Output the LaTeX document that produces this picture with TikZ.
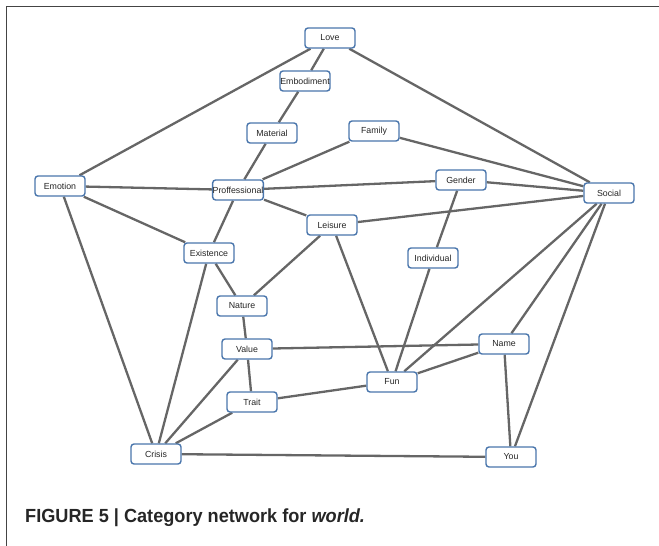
\documentclass[tikz,border=0pt]{standalone}
\usepackage{fontspec}
\setmainfont{Liberation Sans}
\usetikzlibrary{backgrounds}
\definecolor{edgec}{HTML}{666666}
\definecolor{boxc}{HTML}{4A76AC}
\definecolor{framec}{HTML}{444444}
\begin{document}
\begin{tikzpicture}[x=1pt,y=-1pt,
  cat/.style={draw=boxc, line width=1.4pt, rounded corners=3pt, fill=white,
    minimum width=50pt, minimum height=20pt, inner sep=0pt, text=black!85,
    font=\fontsize{8.8}{10}\selectfont},
  link/.style={draw=edgec, line width=2.3pt},
  framel/.style={draw=framec, line width=1.5pt}]
\useasboundingbox (0,0) rectangle (659,546);
\coordinate (fa) at (659,6.5);
\coordinate (fb) at (6.5,6.5);
\coordinate (fc) at (6.5,546);
\draw[framel] (fa) -- (fb) -- (fc);

\node[cat] (love) at (330,38) {Love};
\node[cat] (emb) at (305,81) {Embodiment};
\node[cat] (mat) at (272,133) {Material};
\node[cat] (fam) at (374,131) {Family};
\node[cat] (emo) at (60,186) {Emotion};
\node[cat] (prof) at (238,190) {Proffessional};
\node[cat] (gen) at (461,180) {Gender};
\node[cat] (soc) at (609,193) {Social};
\node[cat] (lei) at (332,225) {Leisure};
\node[cat] (exi) at (209,253) {Existence};
\node[cat] (ind) at (433,258) {Individual};
\node[cat] (nat) at (242,306) {Nature};
\node[cat] (val) at (247,349) {Value};
\node[cat] (nam) at (504,344) {Name};
\node[cat] (fun) at (392,382) {Fun};
\node[cat] (tra) at (252,402) {Trait};
\node[cat] (cri) at (156,454) {Crisis};
\node[cat] (you) at (511,457) {You};

\begin{scope}[on background layer]
\draw[link] (love) -- (emo);
\draw[link] (love) -- (emb);
\draw[link] (love) -- (soc);
\draw[link] (emb) -- (mat);
\draw[link] (mat) -- (prof);
\draw[link] (fam) -- (prof);
\draw[link] (fam) -- (soc);
\draw[link] (emo) -- (prof);
\draw[link] (emo) -- (exi);
\draw[link] (emo) -- (cri);
\draw[link] (prof) -- (gen);
\draw[link] (prof) -- (lei);
\draw[link] (prof) -- (exi);
\draw[link] (gen) -- (soc);
\draw[link] (gen) -- (ind);
\draw[link] (lei) -- (soc);
\draw[link] (lei) -- (nat);
\draw[link] (lei) -- (fun);
\draw[link] (exi) -- (nat);
\draw[link] (exi) -- (cri);
\draw[link] (ind) -- (fun);
\draw[link] (soc) -- (fun);
\draw[link] (soc) -- (nam);
\draw[link] (soc) -- (you);
\draw[link] (nat) -- (val);
\draw[link] (val) -- (nam);
\draw[link] (val) -- (tra);
\draw[link] (val) -- (cri);
\draw[link] (tra) -- (fun);
\draw[link] (tra) -- (cri);
\draw[link] (fun) -- (nam);
\draw[link] (nam) -- (you);
\draw[link] (cri) -- (you);
\end{scope}

\node[anchor=base west, inner sep=0pt, text=black!85, font=\fontsize{19}{22}\selectfont\bfseries] (cap) at (25,522)
  {\scalebox{0.955}[1]{FIGURE 5 | Category network for \textit{world.}}};
\end{tikzpicture}
\end{document}
